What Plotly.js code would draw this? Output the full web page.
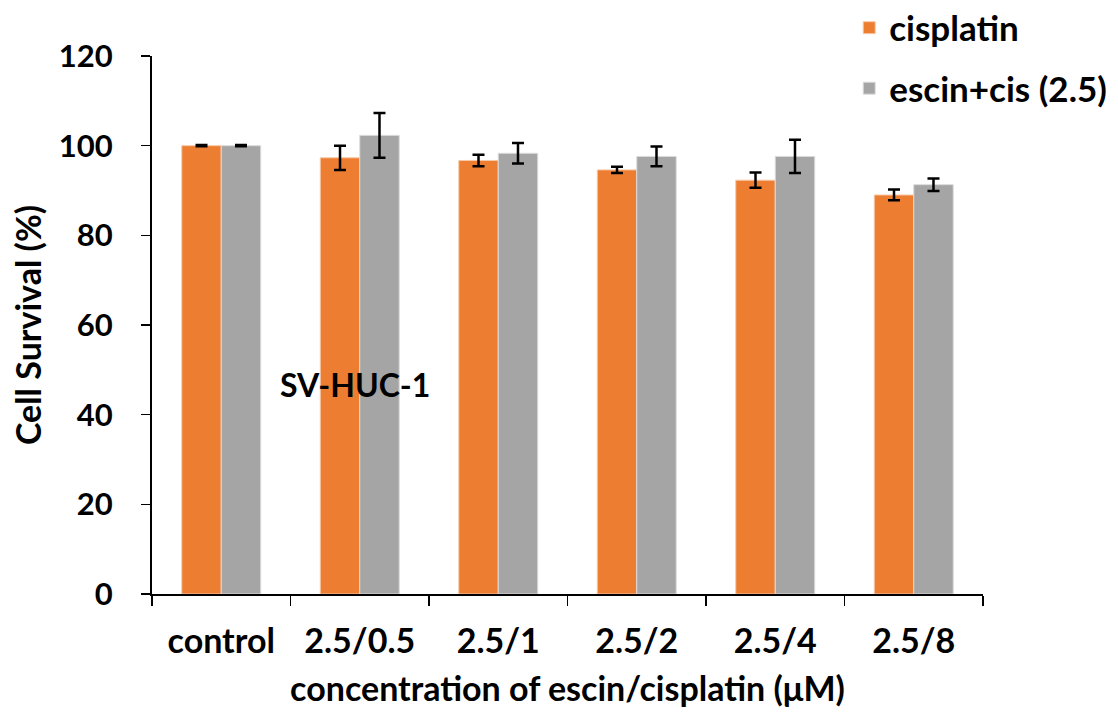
<!DOCTYPE html>
<html>
<head>
<meta charset="utf-8">
<script src="https://cdn.plot.ly/plotly-3.0.1.min.js"></script>
<style>html,body{margin:0;padding:0;background:#fff;}#chart{width:1118px;height:716px;}</style>
</head>
<body>
<div id="chart"></div>
<script>
const categories = ["control", "2.5/0.5", "2.5/1", "2.5/2", "2.5/4", "2.5/8"];
const cisplatin = [100, 97.3, 96.7, 94.6, 92.3, 89.0];
const cisplatinErr = [0.15, 2.7, 1.3, 0.7, 1.7, 1.2];
const escinCis = [100, 102.3, 98.3, 97.6, 97.6, 91.3];
const escinCisErr = [0.15, 5.0, 2.3, 2.2, 3.7, 1.4];
const seriesNames = ["cisplatin", "escin+cis (2.5)"];
const yTicks = [0, 20, 40, 60, 80, 100, 120];

const FONT = "Lato, 'Open Sans', sans-serif";
const errStyle = {type: "data", visible: true, color: "#000", thickness: 2.5, width: 6};

const traces = [
  {type: "bar", name: seriesNames[0], x: categories, y: cisplatin, legendgroup: "a",
   marker: {color: "#ED7D31", line: {color: "#f7c9a8", width: 1}},
   error_y: Object.assign({array: cisplatinErr}, errStyle), hoverinfo: "y"},
  {type: "bar", name: seriesNames[1], x: categories, y: escinCis, legendgroup: "b",
   marker: {color: "#A5A5A5", line: {color: "#dcdcdc", width: 1}},
   error_y: Object.assign({array: escinCisErr}, errStyle), hoverinfo: "y"}
];

const layout = {
  width: 1118, height: 716,
  margin: {l: 152, r: 135, t: 56, b: 122, autoexpand: false},
  paper_bgcolor: "#fff", plot_bgcolor: "#fff",
  font: {family: FONT, color: "#000", size: 24},
  barmode: "group", bargap: 0.43, bargroupgap: 0,
  showlegend: true,
  legend: {x: 0.839, xanchor: "left", y: 1.107, yanchor: "top", xref: "paper", yref: "paper",
           font: {family: FONT, size: 35, color: "#000", weight: "bold"},
           tracegroupgap: 12, bgcolor: "rgba(0,0,0,0)", itemwidth: 30},
  xaxis: {
    type: "category", showline: true, linecolor: "#000", linewidth: 2,
    ticks: "outside", tickson: "boundaries", ticklen: 10, tickwidth: 1.5, tickcolor: "#000",
    tickfont: {family: FONT, size: 34, weight: "bold"}, showgrid: false, zeroline: false,
    ticklabelstandoff: 16,
    title: {text: "concentration of escin/cisplatin (μM)", font: {family: FONT, size: 34, weight: "bold"}, standoff: 18}
  },
  yaxis: {
    range: [0, 120], tickvals: yTicks, showline: true, linecolor: "#000", linewidth: 2,
    ticks: "outside", ticklen: 9, tickwidth: 1.5, tickcolor: "#000", showgrid: false, zeroline: false,
    tickfont: {family: FONT, size: 31, weight: "bold"}, ticklabelstandoff: 22,
    title: {text: "Cell Survival (%)", font: {family: FONT, size: 34, weight: "bold"}, standoff: 7}
  },
  annotations: [
    {x: "2.5/0.5", y: 46.8, xref: "x", yref: "y", text: "SV-HUC-1", showarrow: false, xshift: -5,
     font: {family: FONT, size: 32, weight: "bold", color: "#000"}}
  ]
};

Plotly.newPlot("chart", traces, layout, {displayModeBar: false, staticPlot: true});
</script>
</body>
</html>
